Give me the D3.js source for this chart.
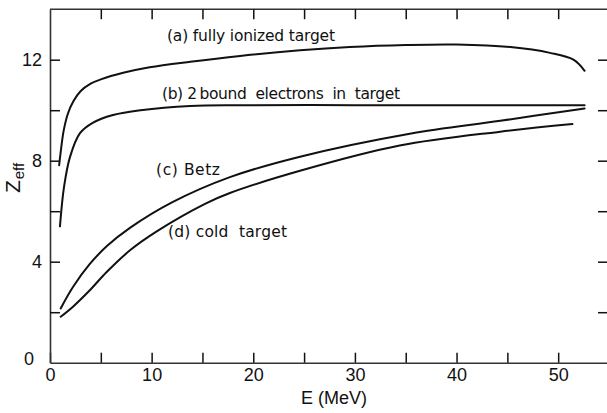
<!DOCTYPE html>
<html>
<head>
<meta charset="utf-8">
<script src="https://cdn.jsdelivr.net/npm/d3@7"></script>
<style>
  body { margin: 0; background: #fff; }
  svg { display: block; font-family: "Liberation Sans", Arial, sans-serif; }
</style>
</head>
<body>
<svg id="chart" width="607" height="413"></svg>
<script>
// ---- data ----
const aE = [0.9, 1.1, 1.35, 1.75, 2.3, 3.0, 4.0, 5.0, 7.2, 9.8, 13.8, 18.7, 24.6, 29.5, 35, 40, 45.3, 49.2, 51.5, 52.6];
const aZ = [7.82, 8.5, 9.2, 9.85, 10.35, 10.75, 11.05, 11.22, 11.48, 11.7, 11.92, 12.15, 12.37, 12.5, 12.58, 12.6, 12.5, 12.27, 12.0, 11.56];

const bE = [0.98, 1.38, 1.97, 2.95, 4.2, 6.2, 8.9, 13.8, 18.7, 30, 40, 52.6];
const bZ = [5.4, 6.96, 8.15, 9.09, 9.5, 9.81, 10.0, 10.17, 10.2, 10.2, 10.2, 10.2];

const cE = [1.05, 2.26, 3.9, 5.6, 7.9, 12.0, 17.7, 24.6, 35.4, 44.3, 52.6];
const cZ = [2.15, 3.0, 3.9, 4.62, 5.35, 6.35, 7.35, 8.16, 9.07, 9.58, 10.07];

const dE = [1.05, 2.26, 3.94, 5.6, 7.9, 10.5, 15.3, 17.7, 24.6, 34.4, 44.3, 51.4];
const dZ = [1.82, 2.22, 2.88, 3.6, 4.46, 5.2, 6.3, 6.72, 7.6, 8.6, 9.15, 9.45];

const xTickLabels = [0, 10, 20, 30, 40, 50];
const xTickAll = [0, 5, 10, 15, 20, 25, 30, 35, 40, 45, 50];
const yTickLabels = [0, 4, 8, 12];
const yTickAll = [0, 2, 4, 6, 8, 10, 12];

const curveLabels = ["(a) fully ionized target", "(b) 2\u2009bound  electrons  in  target", "(c) Betz", "(d) cold  target"];
const labelE = [11.51, 11.02, 10.43, 11.61];
const labelZ = [12.75, 10.43, 7.43, 4.98];
const labelWidth = [168, 238, 64, 119];

// ---- layout ----
const svg = d3.select("#chart");
const x = d3.scaleLinear().domain([0, 55]).range([50, 609]);
const y = d3.scaleLinear().domain([0, 14]).range([362.7, 9.2]);
const ink = "#111";

// top frame line
svg.append("line").attr("x1", x(0)).attr("x2", x(55)).attr("y1", y(14)).attr("y2", y(14))
  .attr("stroke", "#333").attr("stroke-width", 1.6);

function styleAxis(sel) {
  sel.select(".domain").attr("stroke", "#333").attr("stroke-width", 1.6);
  sel.selectAll(".tick line").attr("stroke", ink).attr("stroke-width", 1.5);
  sel.selectAll(".tick text").attr("fill", ink).attr("font-size", 18);
}

const xBottom = svg.append("g").attr("transform", `translate(0,${y(0)})`)
  .call(d3.axisBottom(x).tickValues(xTickAll).tickSizeInner(-10).tickSizeOuter(0).tickPadding(6)
    .tickFormat(d => xTickLabels.includes(d) ? d : ""));
styleAxis(xBottom);

const xTop = svg.append("g").attr("transform", `translate(0,${y(14)})`)
  .call(d3.axisTop(x).tickValues(xTickAll.filter(d => d > 0)).tickSizeInner(-10).tickSizeOuter(0).tickFormat(""));
styleAxis(xTop);
xTop.select(".domain").remove();

const yLeft = svg.append("g").attr("transform", `translate(${x(0)},0)`)
  .call(d3.axisLeft(y).tickValues(yTickAll).tickSizeInner(-10).tickSizeOuter(0).tickPadding(8)
    .tickFormat(d => yTickLabels.includes(d) ? d : ""));
styleAxis(yLeft);
yLeft.selectAll(".tick").filter(d => d === 0).select("line").remove();
yLeft.selectAll(".tick").filter(d => d === 0).select("text").attr("dx", -8).attr("dy", "0.1em");

const yRight = svg.append("g").attr("transform", `translate(${x(55)},0)`)
  .call(d3.axisRight(y).tickValues(yTickAll.filter(d => d > 0)).tickSizeInner(-11).tickSizeOuter(0).tickFormat(""));
styleAxis(yRight);

// axis titles
svg.append("text").attr("x", 334).attr("y", 404).attr("text-anchor", "middle")
  .attr("font-size", 18).attr("fill", ink).text("E (MeV)");

const yt = svg.append("text").attr("transform", "translate(20,178) rotate(-90)")
  .attr("text-anchor", "middle").attr("fill", ink);
yt.append("tspan").attr("font-size", 21).text("Z");
yt.append("tspan").attr("font-size", 15).attr("dy", 4).attr("dx", 1).text("eff");

// curves
const line = d3.line().x(d => x(d[0])).y(d => y(d[1])).curve(d3.curveCatmullRom.alpha(0.5));
const series = [[aE, aZ], [bE, bZ], [cE, cZ], [dE, dZ]];
series.forEach(([E, Z]) => {
  svg.append("path").datum(E.map((e, i) => [e, Z[i]]))
    .attr("d", line).attr("fill", "none").attr("stroke", ink).attr("stroke-width", 2)
    .attr("stroke-linecap", "round");
});

// curve labels
curveLabels.forEach((t, i) => {
  svg.append("text").attr("x", x(labelE[i])).attr("y", y(labelZ[i]))
    .attr("font-family", "'DejaVu Sans', sans-serif")
    .attr("font-size", 15.5).attr("fill", ink).attr("xml:space", "preserve")
    .attr("textLength", labelWidth[i]).attr("lengthAdjust", "spacing")
    .style("white-space", "pre").text(t);
});
</script>
</body>
</html>
